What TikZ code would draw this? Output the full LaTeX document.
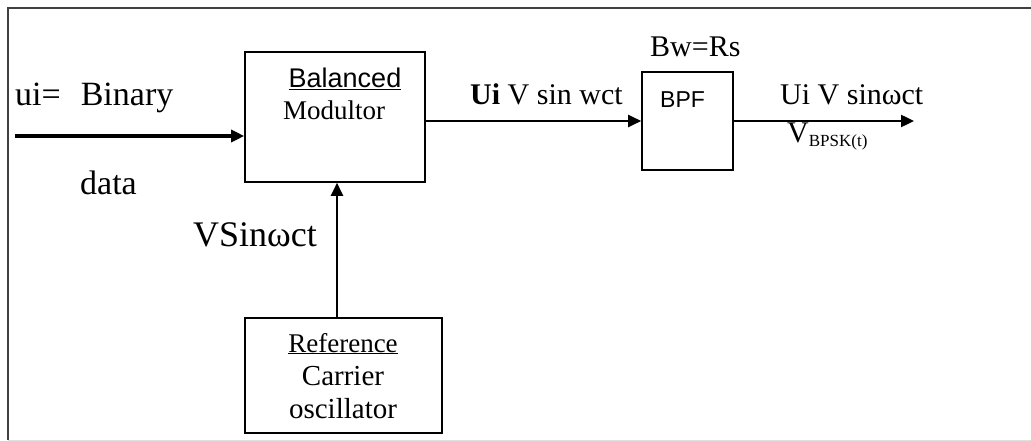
\documentclass[tikz,border=0pt]{standalone}
\usepackage{fontspec}
\setmainfont{Liberation Serif}
\setsansfont{Liberation Sans}
\usetikzlibrary{arrows.meta}

\tikzset{
    blk/.style={draw, line width=1.6pt, inner sep=0pt},
    txt/.style={inner sep=0pt, font=\fontsize{30}{34}\selectfont},
    big/.style={inner sep=0pt, font=\fontsize{34}{38}\selectfont},
    sml/.style={inner sep=0pt, font=\fontsize{27}{30}\selectfont},
    sig/.style={line width=2.4pt, -{Triangle[length=13pt, width=12pt]}},
}

\begin{document}
\begin{tikzpicture}[x=1pt, y=-1pt]
    \useasboundingbox (0,0) rectangle (1031,441);
    % frame
    \draw[line width=2pt, black!75] (8,440) -- (8,8) -- (1031,8);
    \draw[line width=1pt, black!12] (8,440) -- (1031,440);

    % blocks
    \node[blk, minimum width=180pt, minimum height=130pt] (mod) at (335,117) {};
    \node[blk, minimum width=91pt, minimum height=98pt] (bpf) at (687.5,121) {};
    \node[blk, minimum width=197pt, minimum height=115pt] (osc) at (343.5,375.5) {};

    % block texts
    \node[sml, font=\sffamily\fontsize{27}{30}\selectfont, anchor=base] (balanced) at (345,88) {\underline{Balanced}};
    \node[sml, anchor=base] (modultor) at (334,120) {Modultor};
    \node[sml, font=\sffamily\fontsize{23}{26}\selectfont, anchor=base west] (bpfname) at (660,108) {BPF};
    \node[sml, anchor=base] (reference) at (343,352) {\underline{Reference}};
    \node[sml, font=\fontsize{29}{30}\selectfont, anchor=base] (carrier) at (343,385) {Carrier};
    \node[sml, font=\fontsize{29}{30}\selectfont, anchor=base] (oscillator) at (343,418) {oscillator};

    % connectors
    \coordinate (in) at (15,136);
    \coordinate (out) at (914,121);
    \draw[sig, line width=3.2pt] (in) -- (in -| mod.west);
    \draw[sig] (osc.north -| 337,0) -- (mod.south -| 337,0);
    \draw[sig] (bpf.west -| mod.east) -- (bpf.west);
    \draw[sig] (bpf.east) -- (out);

    % signal labels
    \node[big, anchor=base west] (binary) at (15,106) {ui=\hspace{20pt}Binary};
    \node[big, anchor=base west] (data) at (80,194) {data};
    \node[big, font=\fontsize{36}{38}\selectfont, anchor=base west] (carrierlbl) at (193,246) {VSinωct};
    \node[txt, anchor=base west] (modout) at (470,105) {\textbf{Ui} V sin wct};
    \node[txt, anchor=base west] (bw) at (650,57) {Bw=Rs};
    \node[txt, anchor=base west] (bpsk) at (780,105) {Ui V sinωct};
    \node[txt, anchor=base west] (vbpsk) at (787,143) {V\raisebox{-4pt}{\fontsize{17}{18}\selectfont BPSK(t)}};
\end{tikzpicture}
\end{document}
